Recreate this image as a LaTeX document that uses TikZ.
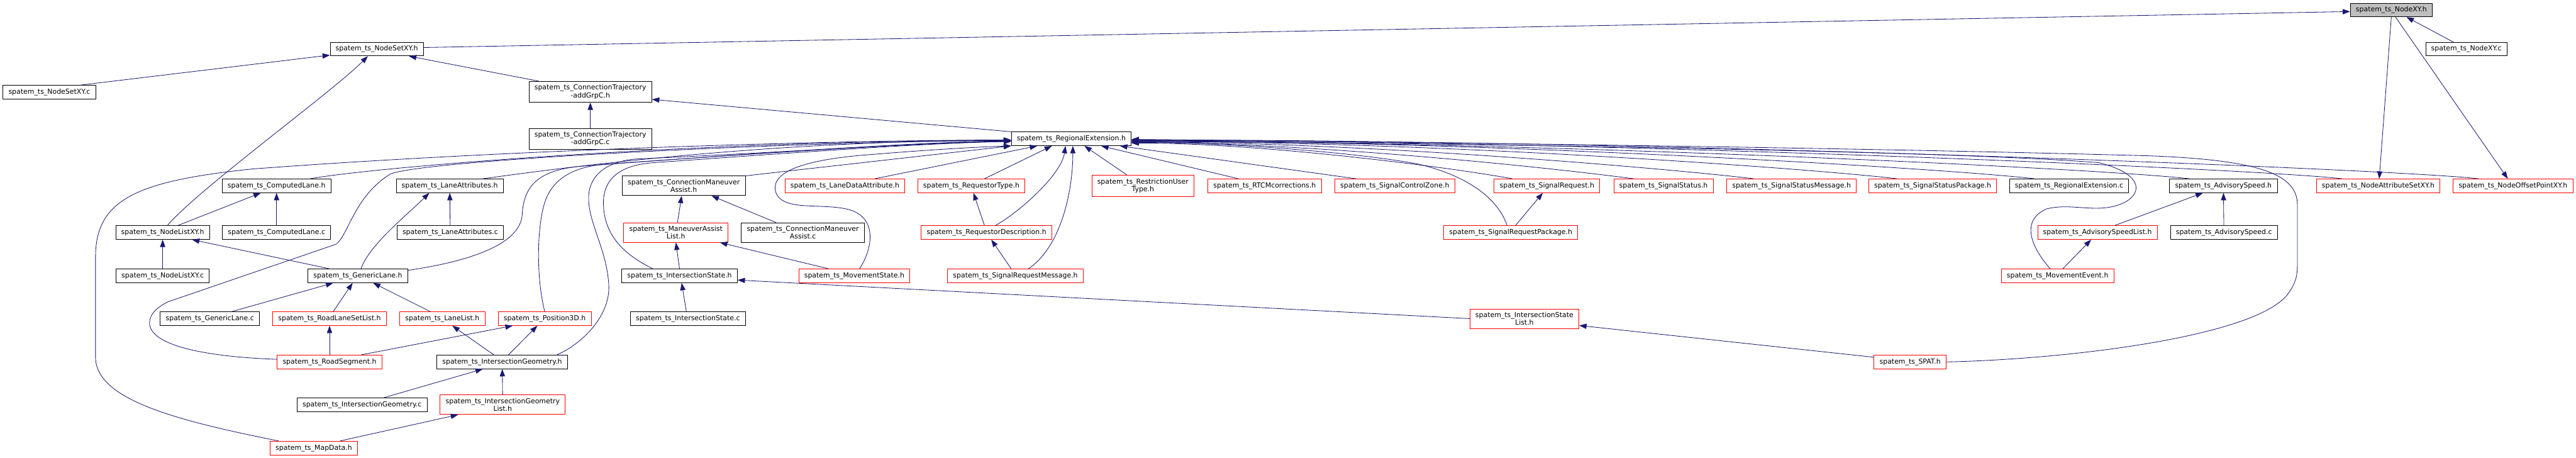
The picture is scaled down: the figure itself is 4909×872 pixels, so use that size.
\documentclass[tikz,border=0pt]{standalone}
\usepackage{fontspec}
\setmainfont{DejaVu Sans}
\usetikzlibrary{arrows.meta,calc}
\definecolor{edgeblue}{HTML}{191970}
\definecolor{nodegray}{HTML}{BFBFBF}

\begin{document}
\begin{tikzpicture}[
  x=1pt, y=-1pt,
  font=\fontsize{13.1}{15}\selectfont,
  filebox/.style={rectangle, draw=black, line width=1pt, fill=white, align=center, inner xsep=10.5pt, inner ysep=6pt, minimum height=26pt},
  nodocbox/.style={filebox, draw=red},
  dep/.style={draw=edgeblue, line width=1pt, -{Triangle[length=14pt,width=10pt]}}
]
\useasboundingbox (0,0) rectangle (4909,872);

\node[filebox, fill=nodegray] (nodexyh) at (4557,19) {spatem\_ts\_NodeXY.h};
\node[filebox] (nodesetxyh) at (718,93.5) {spatem\_ts\_NodeSetXY.h};
\node[filebox] (nodexyc) at (4700,93.5) {spatem\_ts\_NodeXY.c};
\node[filebox] (nodesetxyc) at (94,175.5) {spatem\_ts\_NodeSetXY.c};
\node[filebox] (ctrajh) at (1125,175) {spatem\_ts\_ConnectionTrajectory\\-addGrpC.h};
\node[filebox] (ctrajc) at (1125,264.5) {spatem\_ts\_ConnectionTrajectory\\-addGrpC.c};
\node[filebox] (regexth) at (2041.5,264.5) {spatem\_ts\_RegionalExtension.h};

\node[filebox] (complaneh) at (527,354) {spatem\_ts\_ComputedLane.h};
\node[filebox] (laneatth) at (857,354) {spatem\_ts\_LaneAttributes.h};
\node[filebox] (cmah) at (1303,354) {spatem\_ts\_ConnectionManeuver\\Assist.h};
\node[nodocbox] (lanedatah) at (1610,354) {spatem\_ts\_LaneDataAttribute.h};
\node[nodocbox] (reqtypeh) at (1851,354) {spatem\_ts\_RequestorType.h};
\node[nodocbox] (restrh) at (2178,354) {spatem\_ts\_RestrictionUser\\Type.h};
\node[nodocbox] (rtcmh) at (2410,354) {spatem\_ts\_RTCMcorrections.h};
\node[nodocbox] (sigczh) at (2658,354) {spatem\_ts\_SignalControlZone.h};
\node[nodocbox] (sigreqh) at (2948,354) {spatem\_ts\_SignalRequest.h};
\node[nodocbox] (sigstath) at (3170,354) {spatem\_ts\_SignalStatus.h};
\node[nodocbox] (sigstmsgh) at (3414,354) {spatem\_ts\_SignalStatusMessage.h};
\node[nodocbox] (sigstpkgh) at (3683,354) {spatem\_ts\_SignalStatusPackage.h};
\node[filebox] (regextc) at (3943,354) {spatem\_ts\_RegionalExtension.c};
\node[filebox] (advspeedh) at (4237,354) {spatem\_ts\_AdvisorySpeed.h};
\node[nodocbox] (nodeattrh) at (4532,354) {spatem\_ts\_NodeAttributeSetXY.h};
\node[nodocbox] (nodeoffh) at (4789,354) {spatem\_ts\_NodeOffsetPointXY.h};

\node[filebox] (nodelistxyh) at (310,443) {spatem\_ts\_NodeListXY.h};
\node[filebox] (complanec) at (527,443) {spatem\_ts\_ComputedLane.c};
\node[filebox] (laneattc) at (858,443) {spatem\_ts\_LaneAttributes.c};
\node[nodocbox] (malisth) at (1288,443) {spatem\_ts\_ManeuverAssist\\List.h};
\node[filebox] (cmac) at (1530,443) {spatem\_ts\_ConnectionManeuver\\Assist.c};
\node[nodocbox] (reqdesch) at (1880,443) {spatem\_ts\_RequestorDescription.h};
\node[nodocbox] (sigreqpkgh) at (2879,443) {spatem\_ts\_SignalRequestPackage.h};
\node[nodocbox] (advspeedlisth) at (3997,443) {spatem\_ts\_AdvisorySpeedList.h};
\node[filebox] (advspeedc) at (4238,443) {spatem\_ts\_AdvisorySpeed.c};

\node[filebox] (nodelistxyc) at (310,525.5) {spatem\_ts\_NodeListXY.c};
\node[filebox] (genlaneh) at (682,525.5) {spatem\_ts\_GenericLane.h};
\node[filebox] (intstateh) at (1295,525.5) {spatem\_ts\_IntersectionState.h};
\node[nodocbox] (movstateh) at (1628,525.5) {spatem\_ts\_MovementState.h};
\node[nodocbox] (sigreqmsgh) at (1935,525.5) {spatem\_ts\_SignalRequestMessage.h};
\node[nodocbox] (moveventh) at (3921,525.5) {spatem\_ts\_MovementEvent.h};

\node[filebox] (genlanec) at (400,607) {spatem\_ts\_GenericLane.c};
\node[nodocbox] (roadlanesetlisth) at (628,607) {spatem\_ts\_RoadLaneSetList.h};
\node[nodocbox] (lanelisth) at (843,607) {spatem\_ts\_LaneList.h};
\node[nodocbox] (pos3dh) at (1038,607) {spatem\_ts\_Position3D.h};
\node[filebox] (intstatec) at (1311,607) {spatem\_ts\_IntersectionState.c};
\node[nodocbox] (intstatelisth) at (2905,607) {spatem\_ts\_IntersectionState\\List.h};

\node[nodocbox] (roadsegh) at (628,689.5) {spatem\_ts\_RoadSegment.h};
\node[filebox] (intgeomh) at (957,689.5) {spatem\_ts\_IntersectionGeometry.h};
\node[nodocbox] (spath) at (3640,689.5) {spatem\_ts\_SPAT.h};

\node[filebox] (intgeomc) at (690,771.5) {spatem\_ts\_IntersectionGeometry.c};
\node[nodocbox] (intgeomlisth) at (958,771) {spatem\_ts\_IntersectionGeometry\\List.h};

\node[nodocbox] (mapdatah) at (598,853.5) {spatem\_ts\_MapData.h};

% top part
\draw[dep] ($(nodesetxyh.east)+(0,-3)$) -- ($(nodexyh.west)+(0,3)$);
\draw[dep] ($(nodexyc.north)+(-25,0)$) -- ($(nodexyh.south)+(29,0)$);
\draw[dep] (nodexyh.south) -- ($(nodeattrh.north)+(2,0)$);
\draw[dep] ($(nodexyh.south)+(8,0)$) -- ($(nodeoffh.north)+(-10,0)$);
\draw[dep] ($(nodesetxyc.north)+(60,0)$) -- ($(nodesetxyh.south west)+(0,-2)$);
\draw[dep] ($(nodelistxyh.north)+(9,0)$) .. controls +(60,-70) and +(-70,70) .. ($(nodesetxyh.south)+(-17,0)$);
\draw[dep] ($(ctrajh.north)+(-98,0)$) -- ($(nodesetxyh.south east)+(-28,0)$);
\draw[dep] (ctrajc) -- (ctrajh);
\draw[dep] (regexth.north west) -- ($(ctrajh.south east)+(0,-6)$);

% left side
\draw[dep] ($(nodelistxyh.north)+(29,0)$) -- ($(complaneh.south)+(-30,0)$);
\draw[dep] (complanec) -- (complaneh);
\draw[dep] (nodelistxyc) -- (nodelistxyh);
\draw[dep] (laneattc) -- (laneatth);
\draw[dep] ($(genlaneh.north)+(-54,0)$) -- ($(nodelistxyh.south)+(56,0)$);
\draw[dep] ($(genlaneh.north)+(6,0)$) .. controls +(15,-45) and +(-40,40) .. ($(laneatth.south)+(-39,0)$);
\draw[dep] ($(genlanec.north)+(42,0)$) -- ($(genlaneh.south)+(-47,0)$);
\draw[dep] ($(roadlanesetlisth.north)+(7,0)$) -- ($(genlaneh.south)+(-10,0)$);
\draw[dep] ($(lanelisth.north)+(-23,0)$) -- ($(genlaneh.south)+(29,0)$);
\draw[dep] (roadsegh) -- (roadlanesetlisth);
\draw[dep] ($(roadsegh.north)+(60,0)$) -- ($(pos3dh.south)+(-61,0)$);
\draw[dep] ($(intgeomh.north)+(-16,0)$) -- ($(lanelisth.south)+(19,0)$);
\draw[dep] ($(intgeomh.north)+(12,0)$) -- ($(pos3dh.south)+(-14,0)$);
\draw[dep] ($(intgeomc.north)+(40,0)$) -- ($(intgeomh.south)+(-37,0)$);
\draw[dep] (intgeomlisth) -- (intgeomh);
\draw[dep] ($(mapdatah.north)+(50,0)$) -- ($(intgeomlisth.south)+(-85,0)$);

% middle
\draw[dep] ($(malisth.north)+(3,0)$) -- ($(cmah.south)+(-4,0)$);
\draw[dep] ($(cmac.north)+(-51,0)$) -- ($(cmah.south)+(53,0)$);
\draw[dep] (intstateh.north) -- (malisth.south);
\draw[dep] ($(movstateh.north)+(-49,0)$) -- ($(malisth.south)+(84,0)$);
\draw[dep] ($(intstatec.north)+(-3,0)$) -- ($(intstateh.south)+(4,0)$);
\draw[dep] (intstatelisth.west) -- ($(intstateh.east)+(0,8)$);
\draw[dep] ($(spath.west)+(0,-9)$) -- ($(intstatelisth.south east)+(0,-6)$);
\draw[dep] ($(reqdesch.north)+(-4,0)$) -- ($(reqtypeh.south)+(4,0)$);
\draw[dep] ($(sigreqmsgh.north)+(-8,0)$) -- ($(reqdesch.south)+(9,0)$);
\draw[dep] ($(sigreqpkgh.north)+(9,0)$) -- ($(sigreqh.south)+(-8,0)$);

% right side
\draw[dep] ($(moveventh.north)+(10,0)$) -- ($(advspeedlisth.south)+(-12,0)$);
\draw[dep] ($(advspeedlisth.north)+(33,0)$) -- ($(advspeedh.south)+(-39,0)$);
\draw[dep] (advspeedc) -- (advspeedh);

% into RegionalExtension.h from the left
\draw[dep] ($(complaneh.north)+(64,0)$) .. controls +(120,-22) and +(-600,0) .. ($(regexth.west)+(0,3)$);
\draw[dep] ($(laneatth.north)+(63,0)$) .. controls +(90,-12) and +(-500,0) .. ($(regexth.west)+(0,3)$);
\draw[dep] ($(mapdatah.north)+(-67,0)$) .. controls (330,800) and (182,760) .. (182,680) -- (182,490)
  .. controls (182,380) and (260,345) .. (480,322) .. controls (900,290) and (1500,268) .. ($(regexth.west)+(0,2)$);
\draw[dep] ($(roadsegh.west)+(0,-5)$) .. controls (400,680) and (285,660) .. (285,615) .. controls (285,598) and (300,585) .. (320,575)
  -- (641,465) .. controls (665,445) and (675,375) .. (743,332) .. controls (800,305) and (1500,270) .. ($(regexth.west)+(0,3)$);
\draw[dep] ($(genlaneh.north east)+(0,3)$) .. controls (880,500) and (990,470) .. (995,410)
  .. controls (998,350) and (1030,325) .. (1103,317) .. controls (1400,295) and (1750,270) .. ($(regexth.west)+(0,4)$);
\draw[dep] (pos3dh.north) .. controls (1022,530) and (1022,430) .. (1040,380)
  .. controls (1058,335) and (1100,318) .. (1150,313) .. controls (1450,292) and (1750,272) .. ($(regexth.west)+(0,4)$);
\draw[dep] ($(intgeomh.north east)+(-21,0)$) .. controls (1110,655) and (1165,600) .. (1160,540)
  .. controls (1155,470) and (1118,420) .. (1122,370) .. controls (1126,330) and (1160,308) .. (1210,303)
  .. controls (1500,290) and (1750,272) .. ($(regexth.west)+(0,5)$);
\draw[dep] ($(intstateh.north)+(-51,0)$) .. controls (1190,485) and (1152,450) .. (1150,390)
  .. controls (1148,335) and (1190,314) .. (1244,310) .. controls (1500,292) and (1750,273) .. ($(regexth.west)+(0,5)$);
\draw[dep] ($(movstateh.north)+(10,0)$) .. controls (1665,470) and (1670,415) .. (1620,400)
  .. controls (1570,385) and (1490,405) .. (1478,365) .. controls (1468,325) and (1540,305) .. (1640,296)
  .. controls (1760,286) and (1860,280) .. (regexth.south west);
\draw[dep] (cmah.north east) -- (regexth.south west);

% into RegionalExtension.h from below
\draw[dep] ($(lanedatah.north)+(57,0)$) -- ($(regexth.south)+(-65,0)$);
\draw[dep] ($(reqtypeh.north)+(25,0)$) -- ($(regexth.south)+(-37,0)$);
\draw[dep] ($(reqdesch.north)+(17,0)$) .. controls +(45,-25) and +(-8,55) .. ($(regexth.south)+(-11,0)$);
\draw[dep] ($(sigreqmsgh.north)+(25,0)$) .. controls +(65,-45) and +(0,80) .. ($(regexth.south)+(3,0)$);
\draw[dep] ($(restrh.north)+(-30,0)$) -- ($(regexth.south)+(25,0)$);
\draw[dep] ($(rtcmh.north)+(-50,0)$) -- ($(regexth.south)+(57,0)$);
\draw[dep] ($(sigczh.north)+(-74,0)$) -- ($(regexth.south east)+(-22,0)$);

% into RegionalExtension.h from the right
\draw[dep] ($(sigreqh.north)+(-66,0)$) .. controls +(-120,-22) and +(250,0) .. ($(regexth.east)+(0,8)$);
\draw[dep] ($(sigreqpkgh.north)+(-7,0)$) .. controls (2855,380) and (2800,335) .. (2700,312)
  .. controls (2550,285) and (2300,272) .. ($(regexth.east)+(0,5)$);
\draw[dep] ($(sigstath.north)+(-57,0)$) .. controls +(-150,-20) and +(350,0) .. ($(regexth.east)+(0,7)$);
\draw[dep] ($(sigstmsgh.north)+(-72,0)$) .. controls +(-150,-18) and +(450,0) .. ($(regexth.east)+(0,6)$);
\draw[dep] ($(sigstpkgh.north)+(-68,0)$) .. controls +(-150,-18) and +(600,0) .. ($(regexth.east)+(0,5)$);
\draw[dep] ($(regextc.north)+(-66,0)$) .. controls +(-150,-18) and +(700,0) .. ($(regexth.east)+(0,4)$);
\draw[dep] ($(moveventh.north)+(-14,0)$) .. controls (3870,470) and (3850,420) .. (3900,398)
  .. controls (3950,385) and (4000,410) .. (4050,385) .. controls (4085,365) and (4080,330) .. (4000,310)
  .. controls (3700,285) and (2600,272) .. ($(regexth.east)+(0,3)$);
\draw[dep] ($(advspeedh.north)+(-65,0)$) .. controls +(-150,-18) and +(800,0) .. ($(regexth.east)+(0,5)$);
\draw[dep] ($(nodeattrh.north)+(-69,0)$) .. controls +(-150,-18) and +(900,0) .. ($(regexth.east)+(0,3)$);
\draw[dep] ($(nodeoffh.north)+(-66,0)$) .. controls +(-150,-18) and +(1000,0) .. ($(regexth.east)+(0,2)$);
\draw[dep] (spath.east) .. controls (3950,684) and (4300,640) .. (4360,560)
  .. controls (4378,535) and (4378,520) .. (4378,500) -- (4378,390)
  .. controls (4378,330) and (4300,305) .. (4100,297) .. controls (3500,280) and (2600,270) .. ($(regexth.east)+(0,1)$);
\end{tikzpicture}
\end{document}
